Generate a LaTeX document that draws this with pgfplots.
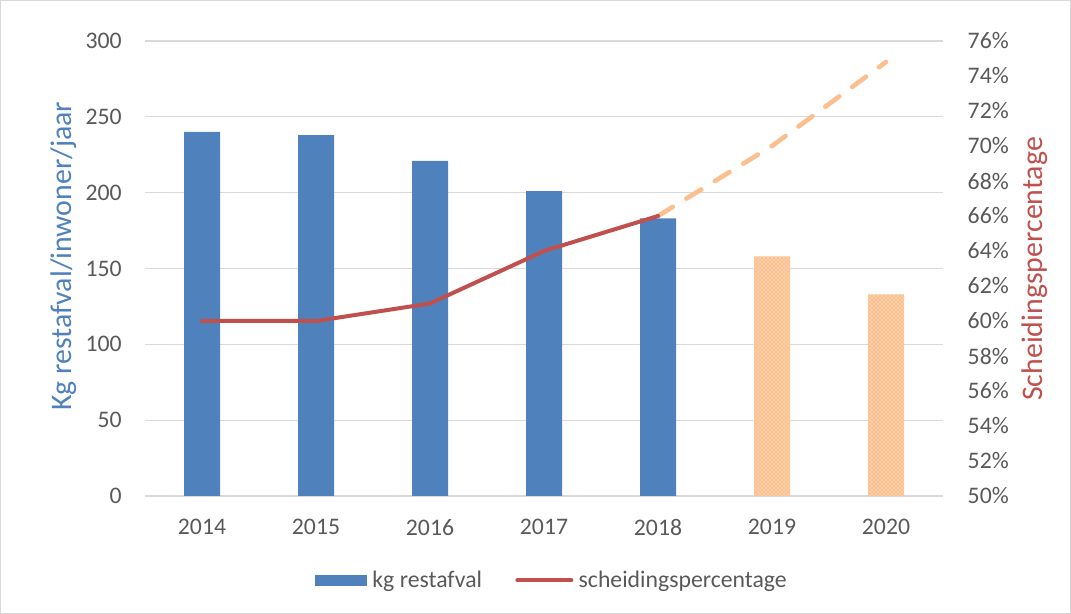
\documentclass[border=0pt]{standalone}
\usepackage{pgfplots}
\pgfplotsset{compat=1.18}
\usetikzlibrary{patterns}
\usepackage{fontspec}
\setmainfont{Carlito}
\definecolor{barblue}{RGB}{79,129,189}
\definecolor{linered}{RGB}{192,80,77}
\definecolor{lorange}{RGB}{250,192,143}
\definecolor{textgray}{RGB}{89,89,89}
\definecolor{gridgray}{RGB}{217,217,217}
\begin{document}
\begin{tikzpicture}
\draw[color=gridgray, line width=0.75pt] (0.375pt,0.375pt) rectangle (802.875pt,460.125pt);
\begin{axis}[
  at={(108.75pt,88.5pt)}, anchor=south west,
  scale only axis, width=598.5pt, height=341.25pt,
  xmin=-0.5, xmax=6.5, ymin=0, ymax=300,
  ytick={0,50,...,300},
  xtick={0,...,6},
  xticklabels={2014,2015,2016,2017,2018,2019,2020},
  axis line style={draw=none},
  major tick length=0pt,
  ymajorgrids,
  grid style={gridgray, line width=0.9pt},
  tick label style={font=\fontsize{17.8}{21}\selectfont, text=textgray},
  /pgf/number format/assume math mode=true,
  yticklabel style={anchor=east, xshift=-14pt},
  xticklabel style={anchor=north, yshift=-14pt},
  ylabel={Kg restafval/inwoner/jaar},
  ylabel style={at={(axis description cs:-0.1015,0.527)}, anchor=center, font=\fontsize{22.4}{26}\selectfont, text=barblue},
  legend columns=2,
  legend style={at={(axis description cs:0.512,-0.185)}, anchor=center, draw=none, fill=none,
    font=\fontsize{17.8}{21}\selectfont, text=textgray,
    /tikz/every even column/.append style={column sep=21pt},
    /tikz/every odd column/.append style={column sep=0pt},
    inner sep=0pt, nodes={inner sep=4pt}},
]
\addplot[ybar, bar width=27pt, bar shift=0pt, fill=barblue, draw=none,
  legend image code/.code={\fill[barblue] (0pt,-4.2pt) rectangle (39pt,4.2pt);}]
  coordinates {(0,240) (1,238) (2,221) (3,201) (4,183)};
\addlegendentry{kg restafval}
\addplot[ybar, bar width=27pt, bar shift=0pt, fill=lorange, draw=none,
  postaction={pattern=crosshatch dots, pattern color=white}, forget plot]
  coordinates {(5,158) (6,133)};
\addlegendimage{linered, line width=3pt,
  legend image code/.code={\draw[linered, line width=3pt, line cap=round] (1.5pt,0pt) -- (42pt,0pt);}}
\addlegendentry{scheidingspercentage}
\end{axis}
\begin{axis}[
  at={(108.75pt,88.5pt)}, anchor=south west,
  scale only axis, width=598.5pt, height=341.25pt,
  xmin=-0.5, xmax=6.5, ymin=50, ymax=76,
  ytick={50,52,...,76},
  xtick=\empty,
  axis line style={draw=none},
  major tick length=0pt,
  yticklabel pos=right,
  tick label style={font=\fontsize{17.8}{21}\selectfont, text=textgray},
  /pgf/number format/assume math mode=true,
  yticklabel={\pgfmathprintnumber{\tick}\%},
  yticklabel style={anchor=west, xshift=15pt},
  ylabel={Scheidingspercentage},
  ylabel style={at={(axis description cs:1.1153,0.499)}, anchor=center, font=\fontsize{22.4}{26}\selectfont, text=linered},
]
\addplot[lorange, line width=3.5pt, line cap=round, dash pattern=on 13pt off 12pt]
  coordinates {(4,66) (5,70) (6,74.8)};
\addplot[linered, line width=3pt, line cap=round]
  coordinates {(0,60) (1,60) (2,61) (3,64) (4,66)};
\end{axis}
\end{tikzpicture}
\end{document}
